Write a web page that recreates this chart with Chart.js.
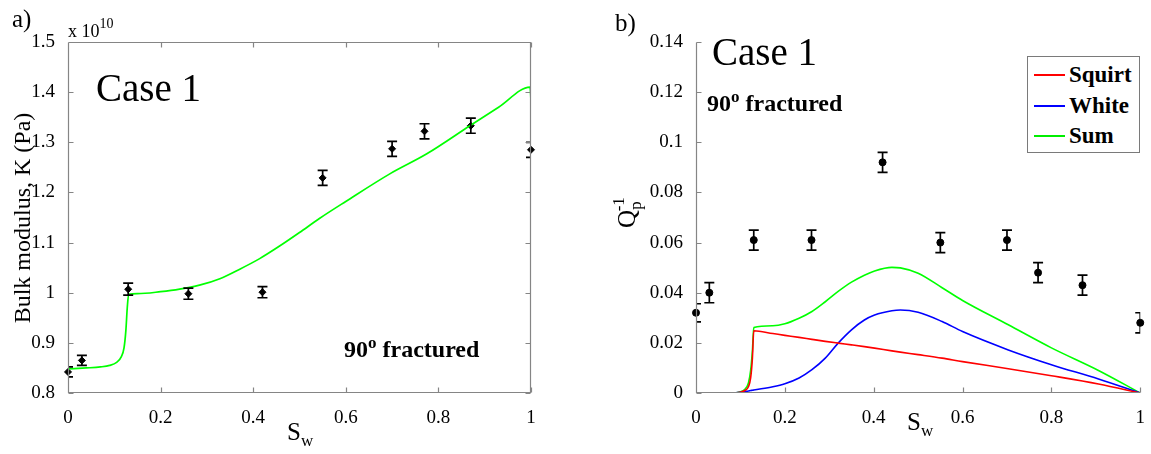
<!DOCTYPE html>
<html lang="en">
<head>
<meta charset="UTF-8">
<title>Case 1 - bulk modulus and attenuation vs Sw</title>
<script src="https://cdn.jsdelivr.net/npm/chart.js"></script>
<style>
  html,body{margin:0;padding:0;background:#fff}
  body{width:1151px;height:454px;position:relative;overflow:hidden;font-family:"Liberation Serif","Times New Roman",serif;color:#000}
  canvas{position:absolute;top:0}
  .t{position:absolute;line-height:1;white-space:nowrap}
  .rot{text-align:center;transform:rotate(-90deg);transform-origin:50% 50%}
  .b{font-weight:bold}
  sup,sub{line-height:0}
  .legend{position:absolute;left:1027px;top:56px;width:111px;height:95px;border:1px solid #7a7a7a;background:#fff}
  .legend .row{position:absolute;left:0;height:24px;font-weight:bold;font-size:23px;line-height:24px}
  .legend .ln{position:absolute;left:6px;top:11px;width:31px;height:2px}
  .legend .lab{position:absolute;left:41px;top:0}
</style>
</head>
<body>
<canvas id="ca" width="560" height="454" style="left:0"></canvas>
<canvas id="cb" width="571" height="454" style="left:580px"></canvas>

<!-- panel a text -->
<div class="t" style="left:12px;top:6px;font-size:25px">a)</div>
<div class="t" style="left:68px;top:22px;font-size:18px">x 10<sup style="font-size:14px;position:relative;top:-2px">10</sup></div>
<div class="t" style="left:96px;top:68px;font-size:39px">Case 1</div>
<div class="t b" style="left:344px;top:337px;font-size:24px">90<sup style="font-size:17px">o</sup> fractured</div>
<div class="t rot" style="left:-108px;top:206px;width:260px;font-size:24px">Bulk modulus, K (Pa)</div>
<div class="t" style="left:287px;top:419px;font-size:25px">S<sub style="font-size:17px">w</sub></div>

<!-- panel b text -->
<div class="t" style="left:615px;top:10px;font-size:25px">b)</div>
<div class="t" style="left:712px;top:32px;font-size:39px">Case 1</div>
<div class="t b" style="left:707px;top:91px;font-size:24px">90<sup style="font-size:17px">o</sup> fractured</div>
<div class="t rot" style="left:596px;top:200px;width:60px;font-size:25px">Q<span style="font-size:17px;position:relative;top:6px">p</span><span style="font-size:17px;position:relative;top:-11px;margin-left:-10px">-1</span></div>
<div class="t" style="left:907px;top:409px;font-size:25px">S<sub style="font-size:17px">w</sub></div>

<div class="legend">
  <div class="row" style="top:6px"><span class="ln" style="background:#ff0000"></span><span class="lab">Squirt</span></div>
  <div class="row" style="top:37px"><span class="ln" style="background:#0000ff"></span><span class="lab">White</span></div>
  <div class="row" style="top:67px"><span class="ln" style="background:#00ee00"></span><span class="lab">Sum</span></div>
</div>

<script>
// measured points (both panels share the saturations)
const swMeas = [0, 0.03, 0.13, 0.26, 0.42, 0.55, 0.70, 0.77, 0.87, 1.0];
const kMeas  = [0.842, 0.865, 1.007, 0.998, 1.001, 1.229, 1.287, 1.322, 1.333, 1.285]; // x 1e10 Pa
const kErr   = [0.010, 0.010, 0.012, 0.011, 0.011, 0.015, 0.015, 0.015, 0.015, 0.015];
const qMeas  = [0.032, 0.040, 0.061, 0.061, 0.092, 0.060, 0.061, 0.048, 0.043, 0.028];
const qErr   = [0.0036, 0.004, 0.004, 0.004, 0.004, 0.004, 0.004, 0.004, 0.004, 0.004];

// panel a model curve (Sum)
const swK  = [0, 0.04, 0.07, 0.09, 0.105, 0.115, 0.121, 0.125, 0.128, 0.131, 0.15, 0.2, 0.241, 0.284, 0.328, 0.371, 0.414, 0.457, 0.5, 0.543, 0.6, 0.695, 0.775, 0.868, 0.93, 0.998, 1.0];
const kSum = [0.848, 0.850, 0.852, 0.855, 0.861, 0.872, 0.890, 0.925, 0.970, 0.997, 0.998, 1.002, 1.007, 1.015, 1.028, 1.047, 1.068, 1.093, 1.120, 1.148, 1.182, 1.237, 1.277, 1.333, 1.370, 1.410, 1.383];

// panel b model curves
const swQ     = [0, 0.08, 0.1, 0.11, 0.118, 0.123, 0.127, 0.13, 0.173, 0.2, 0.232, 0.261, 0.291, 0.32, 0.35, 0.379, 0.402, 0.441, 0.46, 0.5, 0.554, 0.6, 0.703, 0.8, 0.906, 1.0];
const qSquirt = [0, 0, 0.0003, 0.001, 0.0025, 0.006, 0.014, 0.0248, 0.0237, 0.0230, 0.0222, 0.0214, 0.0206, 0.0199, 0.0192, 0.0185, 0.0179, 0.0168, 0.0163, 0.0153, 0.0139, 0.0125, 0.0097, 0.0069, 0.0036, 0];
const qWhite  = [0, 0, 0.0003, 0.0006, 0.0008, 0.0010, 0.0011, 0.0012, 0.0025, 0.0037, 0.0060, 0.0093, 0.0139, 0.0199, 0.0252, 0.0291, 0.0311, 0.0328, 0.0331, 0.0322, 0.0285, 0.0245, 0.0172, 0.0113, 0.0056, 0];
const qSum    = [0, 0, 0.0005, 0.0015, 0.004, 0.009, 0.017, 0.0261, 0.0268, 0.0276, 0.0298, 0.0325, 0.0364, 0.0405, 0.0442, 0.0470, 0.0487, 0.0501, 0.0499, 0.0478, 0.0420, 0.0369, 0.0272, 0.0180, 0.0090, 0];

const AXIS = '#858585', TL = 5, CAP = 5;
const pts = (xs, ys) => xs.map((x, i) => ({x, y: ys[i]}));
const fmt = v => String(Number(v.toFixed(3)));

// axis lines with inward ticks, MATLAB style; box adds top/right
const framePlugin = {
  id: 'frame',
  afterDraw(chart, args, opts) {
    const {ctx, chartArea: a, scales: {x, y}} = chart;
    const L = a.left + 0.5, R = a.right - 0.5, T = a.top + 0.5, B = a.bottom - 0.5;
    ctx.save();
    ctx.strokeStyle = AXIS; ctx.lineWidth = 1.2;
    ctx.beginPath();
    ctx.moveTo(L, T); ctx.lineTo(L, B); ctx.lineTo(R, B);
    if (opts.box) { ctx.lineTo(R, T); ctx.lineTo(L, T); }
    x.ticks.forEach(t => {
      const p = Math.round(x.getPixelForValue(t.value)) + 0.5;
      ctx.moveTo(p, B); ctx.lineTo(p, B - TL);
      if (opts.box) { ctx.moveTo(p, T); ctx.lineTo(p, T + TL); }
    });
    y.ticks.forEach(t => {
      const p = Math.round(y.getPixelForValue(t.value)) + 0.5;
      ctx.moveTo(L, p); ctx.lineTo(L + TL, p);
      if (opts.box) { ctx.moveTo(R, p); ctx.lineTo(R - TL, p); }
    });
    ctx.stroke();
    ctx.restore();
  }
};

// vertical error bars with caps, clipped at the left/right plot edges
const errPlugin = {
  id: 'errbars',
  afterDatasetsDraw(chart) {
    const {ctx, chartArea: a, scales: {x, y}} = chart;
    chart.data.datasets.forEach(ds => {
      if (!ds.errs) return;
      ctx.save();
      ctx.beginPath(); ctx.rect(a.left, 0, a.right - a.left, chart.height); ctx.clip();
      ctx.strokeStyle = '#000'; ctx.lineWidth = 1.7;
      ds.data.forEach((p, i) => {
        const px = x.getPixelForValue(p.x);
        const lo = y.getPixelForValue(p.y - ds.errs[i]), hi = y.getPixelForValue(p.y + ds.errs[i]);
        ctx.beginPath();
        ctx.moveTo(px, lo); ctx.lineTo(px, hi);
        ctx.moveTo(px - CAP, lo); ctx.lineTo(px + CAP, lo);
        ctx.moveTo(px - CAP, hi); ctx.lineTo(px + CAP, hi);
        ctx.stroke();
      });
      ctx.restore();
    });
  }
};

function makeScales(yMin, yMax, yStep, yWidth) {
  const font = {family: '"Liberation Serif","Times New Roman",serif', size: 19};
  return {
    x: {type: 'linear', min: 0, max: 1,
        grid: {display: false}, border: {display: false},
        ticks: {stepSize: 0.2, padding: 6, color: '#000', font, callback: fmt, maxRotation: 0},
        afterFit: s => { s.height = 61; }},
    y: {type: 'linear', min: yMin, max: yMax,
        grid: {display: false}, border: {display: false},
        ticks: {stepSize: yStep, padding: 5, color: '#000', font, callback: fmt},
        afterFit: s => { s.width = yWidth; }}
  };
}

const common = {
  responsive: false, animation: false,
  plugins: {legend: {display: false}, tooltip: {enabled: false}}
};

new Chart(document.getElementById('ca'), {
  type: 'line',
  data: {datasets: [
    {label: 'Sum', data: pts(swK, kSum), borderColor: '#00ff00', borderWidth: 1.7,
     pointRadius: 0, fill: false, cubicInterpolationMode: 'monotone'},
    {label: 'Measured', data: pts(swMeas, kMeas), errs: kErr, showLine: false,
     pointStyle: 'rectRot', pointRadius: 3.5, backgroundColor: '#000', borderColor: '#000', clip: false}
  ]},
  options: Object.assign({}, common, {
    layout: {padding: {left: 0, right: 29, top: 42, bottom: 0}},
    scales: makeScales(0.8, 1.5, 0.1, 68),
    plugins: Object.assign({}, common.plugins, {frame: {box: true}})
  }),
  plugins: [framePlugin, errPlugin]
});

new Chart(document.getElementById('cb'), {
  type: 'line',
  data: {datasets: [
    {label: 'Squirt', data: pts(swQ, qSquirt), borderColor: '#ff0000', borderWidth: 1.6,
     pointRadius: 0, fill: false, cubicInterpolationMode: 'monotone'},
    {label: 'White', data: pts(swQ, qWhite), borderColor: '#0000ff', borderWidth: 1.6,
     pointRadius: 0, fill: false, cubicInterpolationMode: 'monotone'},
    {label: 'Sum', data: pts(swQ, qSum), borderColor: '#00ff00', borderWidth: 1.6,
     pointRadius: 0, fill: false, cubicInterpolationMode: 'monotone'},
    {label: 'Measured', data: pts(swMeas, qMeas), errs: qErr, showLine: false,
     pointStyle: 'circle', pointRadius: 3.5, backgroundColor: '#000', borderColor: '#000', clip: false}
  ]},
  options: Object.assign({}, common, {
    layout: {padding: {left: 0, right: 7, top: 42, bottom: 0}},
    scales: makeScales(0, 0.14, 0.02, 116),
    plugins: Object.assign({}, common.plugins, {frame: {box: false}})
  }),
  plugins: [framePlugin, errPlugin]
});
</script>
</body>
</html>
